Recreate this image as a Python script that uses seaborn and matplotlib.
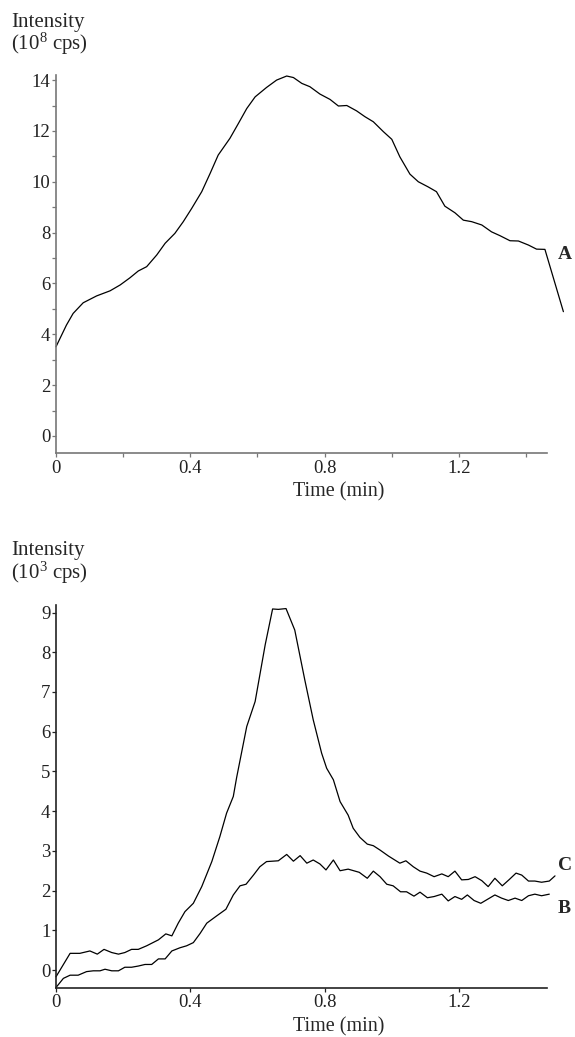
import matplotlib

matplotlib.use("Agg")
import matplotlib.pyplot as plt
import pandas as pd
import seaborn as sns
from matplotlib.ticker import FixedLocator, MultipleLocator

# curve A, top panel (10^8 cps)
time_a = [0, 0.031, 0.051, 0.081, 0.121, 0.161, 0.191, 0.220, 0.245, 0.270, 0.300, 0.325,
          0.354, 0.379, 0.404, 0.434, 0.459, 0.483, 0.518, 0.543, 0.568, 0.593, 0.627, 0.657,
          0.687, 0.707, 0.732, 0.756, 0.786, 0.816, 0.841, 0.866, 0.895, 0.920, 0.945, 0.975,
          1.0, 1.024, 1.054, 1.079, 1.108, 1.133, 1.158, 1.188, 1.213, 1.238, 1.268, 1.297,
          1.322, 1.352, 1.377, 1.407, 1.431, 1.456, 1.511]
intensity_a = [3.51, 4.36, 4.82, 5.24, 5.51, 5.71, 5.94, 6.22, 6.49, 6.66, 7.12, 7.58,
               7.97, 8.43, 8.95, 9.61, 10.33, 11.05, 11.71, 12.29, 12.88, 13.34, 13.71, 14.0,
               14.16, 14.1, 13.87, 13.74, 13.45, 13.24, 12.98, 13.0, 12.79, 12.56, 12.36, 11.97,
               11.67, 10.98, 10.30, 10.0, 9.80, 9.61, 9.04, 8.78, 8.49, 8.43, 8.30, 8.03,
               7.88, 7.68, 7.67, 7.51, 7.35, 7.34, 4.89]

# curve C, bottom panel (10^3 cps)
time_c = [0, 0.042, 0.071, 0.101, 0.123, 0.143, 0.166, 0.186, 0.205, 0.225, 0.245, 0.270,
          0.305, 0.327, 0.345, 0.364, 0.384, 0.409, 0.434, 0.464, 0.488, 0.508, 0.528, 0.538,
          0.568, 0.593, 0.623, 0.645, 0.662, 0.685, 0.711, 0.741, 0.766, 0.791, 0.806, 0.826,
          0.846, 0.870, 0.885, 0.905, 0.927, 0.945, 0.965, 0.990, 1.024, 1.042, 1.064, 1.084,
          1.104, 1.126, 1.149, 1.168, 1.188, 1.208, 1.228, 1.248, 1.268, 1.287, 1.307, 1.329,
          1.350, 1.370, 1.387, 1.407, 1.426, 1.446, 1.469, 1.486]
intensity_c = [-0.17, 0.42, 0.42, 0.48, 0.40, 0.52, 0.44, 0.40, 0.44, 0.52, 0.52, 0.61,
               0.76, 0.91, 0.86, 1.18, 1.47, 1.68, 2.10, 2.73, 3.36, 3.95, 4.37, 4.85,
               6.13, 6.76, 8.19, 9.09, 9.08, 9.10, 8.56, 7.30, 6.30, 5.46, 5.08, 4.79,
               4.24, 3.90, 3.57, 3.34, 3.17, 3.13, 3.02, 2.87, 2.69, 2.75, 2.60, 2.49,
               2.44, 2.35, 2.42, 2.35, 2.49, 2.27, 2.28, 2.35, 2.25, 2.10, 2.31, 2.12,
               2.28, 2.44, 2.39, 2.24, 2.24, 2.21, 2.24, 2.37]

# curve B, bottom panel (10^3 cps)
time_b = [0, 0.022, 0.042, 0.066, 0.091, 0.111, 0.131, 0.146, 0.166, 0.186, 0.205, 0.225,
          0.245, 0.265, 0.285, 0.305, 0.325, 0.345, 0.369, 0.389, 0.409, 0.429, 0.449, 0.478,
          0.506, 0.528, 0.548, 0.566, 0.588, 0.607, 0.627, 0.662, 0.687, 0.707, 0.727, 0.747,
          0.766, 0.786, 0.804, 0.826, 0.846, 0.870, 0.903, 0.927, 0.945, 0.965, 0.985, 1.004,
          1.026, 1.044, 1.066, 1.084, 1.106, 1.126, 1.149, 1.168, 1.188, 1.208, 1.225, 1.245,
          1.265, 1.285, 1.307, 1.327, 1.347, 1.367, 1.387, 1.407, 1.426, 1.446, 1.469]
intensity_b = [-0.44, -0.21, -0.13, -0.13, -0.04, -0.02, -0.02, 0.02, -0.02, -0.02, 0.07, 0.07,
               0.10, 0.14, 0.14, 0.28, 0.28, 0.48, 0.56, 0.61, 0.69, 0.92, 1.18, 1.36,
               1.53, 1.89, 2.12, 2.16, 2.39, 2.60, 2.73, 2.75, 2.91, 2.74, 2.88, 2.69,
               2.77, 2.67, 2.52, 2.77, 2.50, 2.54, 2.46, 2.31, 2.49, 2.35, 2.16, 2.12,
               1.97, 1.97, 1.86, 1.96, 1.82, 1.85, 1.91, 1.74, 1.85, 1.78, 1.89, 1.75,
               1.68, 1.78, 1.89, 1.81, 1.75, 1.81, 1.75, 1.87, 1.91, 1.87, 1.91]

x_ticklabels = ["0", "0.4", "0.8", "1.2"]

sns.set_style("ticks")
plt.rcParams["font.family"] = ["Liberation Serif", "DejaVu Serif"]
plt.rcParams["mathtext.default"] = "regular"

W, H = 575, 1037
fig = plt.figure(figsize=(W / 100, H / 100), dpi=100)

left, width = 56 / W, (565 - 56) / W
ax_top = fig.add_axes([left, 1 - 453 / H, width, (453 - 75) / H])
ax_bot = fig.add_axes([left, 1 - 987.5 / H, width, (987.5 - 605) / H])

df_a = pd.DataFrame({"time": time_a, "intensity": intensity_a})
df_c = pd.DataFrame({"time": time_c, "intensity": intensity_c})
df_b = pd.DataFrame({"time": time_b, "intensity": intensity_b})

line_kw = dict(color="black", linewidth=0.9, estimator=None, sort=False, clip_on=False)
sns.lineplot(data=df_a, x="time", y="intensity", ax=ax_top, **line_kw)
sns.lineplot(data=df_c, x="time", y="intensity", ax=ax_bot, **line_kw)
sns.lineplot(data=df_b, x="time", y="intensity", ax=ax_bot, **line_kw)


def style_axes(ax, spine_color, ylim, xminor, label_y):
    ax.set_xlim(0, (565 - 56) / 335.8)
    ax.set_ylim(*ylim)
    for side in ("top", "right"):
        ax.spines[side].set_visible(False)
    for side in ("left", "bottom"):
        ax.spines[side].set_color(spine_color)
        ax.spines[side].set_linewidth(1.2)
    ax.spines["bottom"].set_bounds(0, 1.462)
    ax.set_xticks([0, 0.4, 0.8, 1.2])
    ax.set_xticklabels(x_ticklabels)
    if xminor:
        ax.xaxis.set_minor_locator(FixedLocator([0.2, 0.6, 1.0, 1.4]))
    ax.tick_params(axis="both", which="both", direction="out", length=3, width=0.9,
                   color=spine_color, labelsize=13.5, labelcolor="#222222", pad=1)
    ax.tick_params(axis="x", pad=2)
    ax.set_xlabel("Time (min)", fontsize=14.5)
    ax.xaxis.set_label_coords(0.555, label_y)
    ax.set_ylabel("")


style_axes(ax_top, "#777777", (-0.67, 14.2), True, -0.078)
ax_top.set_yticks(range(0, 15, 2))
ax_top.yaxis.set_minor_locator(MultipleLocator(1))

style_axes(ax_bot, "#222222", (-0.44, 9.19), False, -0.077)
ax_bot.set_yticks(range(0, 10))

ax_top.text(1.494, 7.12, "A", fontsize=14, fontweight="bold", va="center", ha="left")
ax_bot.text(1.494, 2.64, "C", fontsize=14, fontweight="bold", va="center", ha="left")
ax_bot.text(1.494, 1.56, "B", fontsize=14, fontweight="bold", va="center", ha="left")

fig.text(11 / W, 1 - 22 / H, "Intensity", fontsize=15, va="center", ha="left")
fig.text(11 / W, 1 - 44 / H, "(10$^{8}$ cps)", fontsize=15, va="center", ha="left")
fig.text(11 / W, 1 - 550 / H, "Intensity", fontsize=15, va="center", ha="left")
fig.text(11 / W, 1 - 573 / H, "(10$^{3}$ cps)", fontsize=15, va="center", ha="left")

fig.savefig("out.png", dpi=100, facecolor="white")
